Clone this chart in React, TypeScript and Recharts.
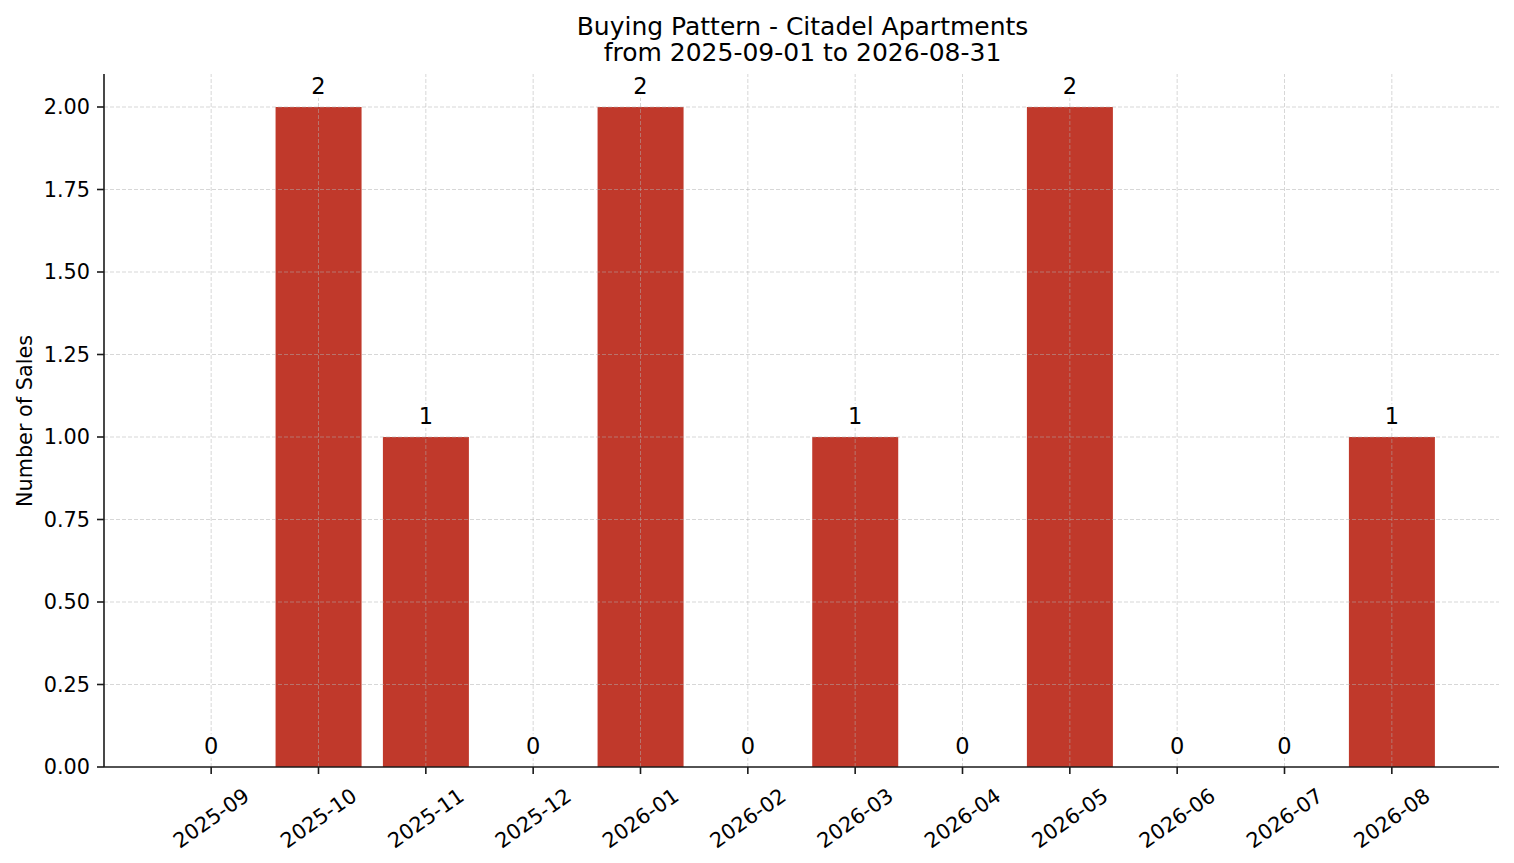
import { Bar, ComposedChart, LabelList, Line, ReferenceLine, XAxis, YAxis } from 'recharts';

const months = [
    '2025-09', '2025-10', '2025-11', '2025-12', '2026-01', '2026-02',
    '2026-03', '2026-04', '2026-05', '2026-06', '2026-07', '2026-08',
];
const sales = [0, 2, 1, 0, 2, 0, 1, 0, 2, 0, 0, 1];
const yTicks = [0, 0.25, 0.5, 0.75, 1, 1.25, 1.5, 1.75, 2];

const titleLines = ['Buying Pattern - Citadel Apartments', 'from 2025-09-01 to 2026-08-31'];
const yLabel = 'Number of Sales';

const data = months.map((month, i) => ({ month, sales: sales[i] }));

const FONT = '"DejaVu Sans", sans-serif';
const GRID = { stroke: '#b0b0b0', strokeOpacity: 0.5, strokeDasharray: '4 2', strokeWidth: 1 };
const SPINE = { stroke: '#1a1a1a', strokeWidth: 1.6 };

const MonthTick = (props: any) => {
    const { x, y, payload } = props;
    return (
        <g transform={`translate(${x},${y + 42})`}>
            <text transform="rotate(-35)" textAnchor="middle" dy="0.35em"
                fontSize={20.8} fontFamily={FONT} fill="#000">
                {payload.value}
            </text>
        </g>
    );
};

// value label sitting above each bar top, on a half-transparent white box
const BarValue = (props: any) => {
    const { x, y, value } = props;
    const cy = y - 21;
    return (
        <g>
            <rect x={x - 11} y={cy - 12} width={22} height={24} fill="#fff" fillOpacity={0.8} />
            <text x={x} y={cy} dy="0.36em" textAnchor="middle" fontSize={22.5} fontFamily={FONT} fill="#000">
                {value}
            </text>
        </g>
    );
};

const App = () => {
    return (
        <div style={{ position: 'absolute', left: 0, top: 0, width: 1514, height: 863, background: '#fff' }}>
            <ComposedChart
                width={1514}
                height={863}
                data={data}
                margin={{ top: 74, right: 15, left: 0, bottom: 0 }}
                barCategoryGap="10%"
            >
                <XAxis
                    dataKey="month"
                    height={96}
                    padding={{ left: 53.5, right: 53.5 }}
                    tick={<MonthTick />}
                    tickSize={7}
                    tickLine={SPINE}
                    axisLine={SPINE}
                    interval={0}
                />
                <YAxis
                    domain={[0, 2.1]}
                    ticks={yTicks}
                    width={104}
                    tickSize={7}
                    tickMargin={7}
                    tickFormatter={(v: number) => v.toFixed(2)}
                    tick={{ fontSize: 20.8, fontFamily: FONT, fill: '#000' }}
                    tickLine={SPINE}
                    axisLine={SPINE}
                    allowDataOverflow
                />
                <Bar dataKey="sales" fill="#c0392b" isAnimationActive={false} />
                {yTicks.slice(1).map((t) => (
                    <ReferenceLine key={`h${t}`} y={t} {...GRID} />
                ))}
                {months.map((m) => (
                    <ReferenceLine key={`v${m}`} x={m} {...GRID} />
                ))}
                <Line dataKey="sales" stroke="none" dot={false} activeDot={false} isAnimationActive={false}>
                    <LabelList dataKey="sales" content={<BarValue />} />
                </Line>
            </ComposedChart>
            <svg width={1514} height={863} style={{ position: 'absolute', left: 0, top: 0, pointerEvents: 'none' }}>
                <text x={802.5} y={35} textAnchor="middle" fontSize={25} fontFamily={FONT} fill="#000">
                    {titleLines[0]}
                </text>
                <text x={802.5} y={61} textAnchor="middle" fontSize={25} fontFamily={FONT} fill="#000">
                    {titleLines[1]}
                </text>
                <text x={32} y={421} transform="rotate(-90, 32, 421)" textAnchor="middle"
                    fontSize={20.8} fontFamily={FONT} fill="#000">
                    {yLabel}
                </text>
            </svg>
        </div>
    );
};

export default App;
